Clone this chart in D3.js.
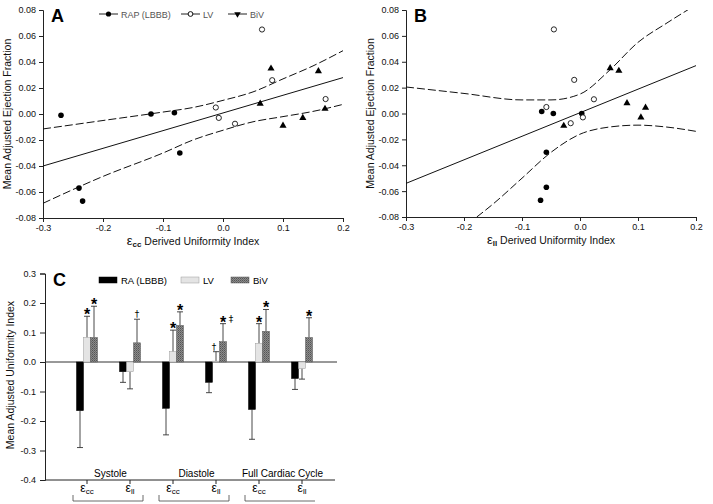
<!DOCTYPE html>
<html lang="en">
<head>
<meta charset="UTF-8">
<title>Uniformity index and ejection fraction</title>
<script src="https://d3js.org/d3.v7.min.js"></script>
<style>
  body { margin: 0; background: #fff; }
  svg { font-family: "Liberation Sans", Arial, sans-serif; }
  .tick text { font-size: 9px; fill: #111; }
  .domain, .tick line { stroke: #222; }
</style>
</head>
<body>
<script>
// ---- panel A : eps_cc vs EF ----
var raA_x = [-0.270, -0.120, -0.081, -0.072, -0.240, -0.234];
var raA_y = [-0.001, 0.000, 0.001, -0.030, -0.057, -0.067];
var lvA_x = [0.065, -0.012, -0.007, 0.020, 0.082, 0.171];
var lvA_y = [0.065, 0.005, -0.003, -0.0075, 0.026, 0.0115];
var bivA_x = [0.080, 0.062, 0.100, 0.133, 0.159, 0.170];
var bivA_y = [0.035, 0.008, -0.009, -0.003, 0.033, 0.004];
var fitA = [[-0.3, -0.040], [0.2, 0.028]];
var upperA = [[-0.3, -0.0115], [-0.2, -0.005], [-0.1, 0.0015], [-0.05, 0.005], [0, 0.0105], [0.05, 0.017], [0.1, 0.027], [0.15, 0.037], [0.2, 0.0487]];
var lowerA = [[-0.3, -0.0687], [-0.2, -0.048], [-0.1, -0.03], [-0.05, -0.02], [0, -0.0125], [0.05, -0.006], [0.1, -0.002], [0.15, 0.002], [0.2, 0.0074]];

// ---- panel B : eps_ll vs EF ----
var raB_x = [-0.066, -0.046, 0.003, -0.058, -0.058, -0.068];
var raB_y = [0.0015, 0.000, 0.000, -0.030, -0.057, -0.067];
var lvB_x = [-0.045, -0.010, -0.058, -0.016, 0.005, 0.024];
var lvB_y = [0.065, 0.026, 0.005, -0.0075, -0.003, 0.011];
var bivB_x = [-0.028, 0.052, 0.067, 0.081, 0.105, 0.113];
var bivB_y = [-0.0095, 0.035, 0.033, 0.008, -0.003, 0.0045];
var fitB = [[-0.3, -0.054], [0.2, 0.037]];
var upperB = [[-0.3, 0.0205], [-0.2, 0.0155], [-0.1, 0.0105], [-0.05, 0.0105], [0, 0.015], [0.05, 0.033], [0.1, 0.055], [0.15, 0.07], [0.2, 0.084]];
var lowerB = [[-0.178, -0.08], [-0.15, -0.07], [-0.1, -0.05], [-0.05, -0.03], [0, -0.016], [0.05, -0.0105], [0.1, -0.009], [0.15, -0.0105], [0.2, -0.0138]];

var xTicksAB = [-0.3, -0.2, -0.1, 0.0, 0.1, 0.2];
var yTicksAB = [-0.08, -0.06, -0.04, -0.02, 0.00, 0.02, 0.04, 0.06, 0.08];

// ---- panel C : bars ----
var seriesC = ["RA (LBBB)", "LV", "BiV"];
var catsC = ["sys_cc", "sys_ll", "dia_cc", "dia_ll", "full_cc", "full_ll"];
var catSub = ["cc", "ll", "cc", "ll", "cc", "ll"];
var phases = ["Systole", "Diastole", "Full Cardiac Cycle"];
var raMean = [-0.165, -0.033, -0.157, -0.069, -0.161, -0.056];
var raSd = [0.125, 0.036, 0.090, 0.035, 0.101, 0.037];
var lvMean = [0.083, -0.033, 0.035, 0.003, 0.063, -0.022];
var lvSd = [0.072, 0.058, 0.073, 0.032, 0.067, 0.036];
var bivMean = [0.083, 0.065, 0.124, 0.069, 0.104, 0.083];
var bivSd = [0.106, 0.080, 0.046, 0.061, 0.074, 0.067];
var yTicksC = [-0.4, -0.3, -0.2, -0.1, 0.0, 0.1, 0.2, 0.3];
// significance marks: [category index, series index, symbol]
var marksC = [[0, 1, "*"], [0, 2, "*"], [1, 2, "†"], [2, 1, "*"], [2, 2, "*"],
              [3, 1, "†"], [3, 2, "*"], [3, 2, "‡"], [4, 1, "*"], [4, 2, "*"], [5, 2, "*"]];

var svg = d3.select("body").append("svg")
  .attr("width", 713)
  .attr("height", 504);

var defs = svg.append("defs");
var pat = defs.append("pattern")
  .attr("id", "hatch")
  .attr("width", 2).attr("height", 2)
  .attr("patternUnits", "userSpaceOnUse");
pat.append("rect").attr("width", 2).attr("height", 2).attr("fill", "#8c8c8c");
pat.append("rect").attr("width", 1).attr("height", 1).attr("fill", "#555");
pat.append("rect").attr("x", 1).attr("y", 1).attr("width", 1).attr("height", 1).attr("fill", "#6a6a6a");

function scatterPanel(opt) {
  var x = d3.scaleLinear().domain([-0.3, 0.2]).range(opt.xr);
  var y = d3.scaleLinear().domain([-0.08, 0.08]).range(opt.yr);
  var g = svg.append("g");

  g.append("g")
    .attr("transform", `translate(0,${opt.yr[0]})`)
    .call(d3.axisBottom(x).tickValues(xTicksAB).tickSize(4).tickPadding(3).tickFormat(d => d.toFixed(1)));
  g.append("g")
    .attr("transform", `translate(${opt.xr[0]},0)`)
    .call(d3.axisLeft(y).tickValues(yTicksAB).tickSize(4).tickPadding(3).tickFormat(d => d.toFixed(2)));

  defs.append("clipPath").attr("id", opt.id + "clip")
    .append("rect")
    .attr("x", opt.xr[0]).attr("y", opt.yr[1])
    .attr("width", opt.xr[1] - opt.xr[0]).attr("height", opt.yr[0] - opt.yr[1]);

  var line = d3.line().x(d => x(d[0])).y(d => y(d[1])).curve(d3.curveMonotoneX);
  var lines = g.append("g").attr("clip-path", `url(#${opt.id}clip)`)
    .attr("fill", "none").attr("stroke", "#111");
  lines.append("path").attr("d", line(opt.fit)).attr("stroke-width", 1);
  lines.append("path").attr("d", line(opt.upper)).attr("stroke-width", 1).attr("stroke-dasharray", "8,3");
  lines.append("path").attr("d", line(opt.lower)).attr("stroke-width", 1).attr("stroke-dasharray", "8,3");

  g.selectAll(".ra").data(d3.zip(opt.ra[0], opt.ra[1])).enter().append("circle")
    .attr("cx", d => x(d[0])).attr("cy", d => y(d[1])).attr("r", 2.8).attr("fill", "#000");
  g.selectAll(".lv").data(d3.zip(opt.lv[0], opt.lv[1])).enter().append("circle")
    .attr("cx", d => x(d[0])).attr("cy", d => y(d[1])).attr("r", 2.6)
    .attr("fill", "#fff").attr("stroke", "#111").attr("stroke-width", 0.9);
  g.selectAll(".biv").data(d3.zip(opt.biv[0], opt.biv[1])).enter().append("path")
    .attr("d", d3.symbol(d3.symbolTriangle, 22))
    .attr("transform", d => `translate(${x(d[0])},${y(d[1])})`)
    .attr("fill", "#000");

  // axis titles
  var xt = g.append("text")
    .attr("x", (opt.xr[0] + opt.xr[1]) / 2).attr("y", opt.yr[0] + 27)
    .attr("text-anchor", "middle").style("font-size", "10.5px").attr("fill", "#111");
  xt.append("tspan").text("ε").style("font-size", "13px");
  xt.append("tspan").text(opt.sub).attr("dy", 2).style("font-size", "8px").style("font-weight", "bold");
  xt.append("tspan").text(" Derived Uniformity Index").attr("dy", -2);

  g.append("text")
    .attr("transform", `translate(${opt.xr[0] - 32},${(opt.yr[0] + opt.yr[1]) / 2}) rotate(-90)`)
    .attr("text-anchor", "middle").style("font-size", "10.5px").attr("fill", "#111")
    .text("Mean Adjusted Ejection Fraction");

  g.append("text").attr("x", opt.xr[0] + 8).attr("y", opt.yr[1] + 12)
    .style("font-size", "18px").style("font-weight", "bold").text(opt.label);
  return g;
}

var gA = scatterPanel({
  id: "A", label: "A", sub: "cc", xr: [43, 343], yr: [218, 10],
  ra: [raA_x, raA_y], lv: [lvA_x, lvA_y], biv: [bivA_x, bivA_y],
  fit: fitA, upper: upperA, lower: lowerA
});
scatterPanel({
  id: "B", label: "B", sub: "ll", xr: [406, 696], yr: [217, 10],
  ra: [raB_x, raB_y], lv: [lvB_x, lvB_y], biv: [bivB_x, bivB_y],
  fit: fitB, upper: upperB, lower: lowerB
});

// legend for A
var legA = gA.append("g").attr("fill", "#555").style("font-size", "9px");
[[99, "RAP (LBBB)"], [181, "LV"], [228, "BiV"]].forEach(function(d, i) {
  legA.append("line").attr("x1", d[0]).attr("x2", d[0] + 19).attr("y1", 14).attr("y2", 14)
    .attr("stroke", "#222").attr("stroke-width", 1);
  if (i === 0) legA.append("circle").attr("cx", d[0] + 9.5).attr("cy", 14).attr("r", 2.6).attr("fill", "#000");
  if (i === 1) legA.append("circle").attr("cx", d[0] + 9.5).attr("cy", 14).attr("r", 2.4).attr("fill", "#fff").attr("stroke", "#111");
  if (i === 2) legA.append("path").attr("d", d3.symbol(d3.symbolTriangle, 18))
    .attr("transform", `translate(${d[0] + 9.5},14) rotate(180)`).attr("fill", "#000");
  legA.append("text").attr("x", d[0] + 22).attr("y", 17.5).text(d[1]);
});

// ---- panel C ----
var gC = svg.append("g");
var yC = d3.scaleLinear().domain([-0.4, 0.3]).range([480, 273.5]);
var xC = d3.scaleBand().domain(catsC).range([65.5, 323.5]);
var xS = d3.scaleBand().domain(seriesC).range([-10.5, 10.5]);
var means = [raMean, lvMean, bivMean];
var sds = [raSd, lvSd, bivSd];
var fills = ["#000", "#e4e4e4", "url(#hatch)"];
var strokes = ["#000", "#9a9a9a", "#555"];

gC.append("g").attr("transform", "translate(45,0)")
  .call(d3.axisLeft(yC).tickValues(yTicksC).tickSize(5).tickPadding(4).tickFormat(d => d.toFixed(1)));
gC.append("line").attr("x1", 45).attr("x2", 335).attr("y1", yC(-0.4)).attr("y2", yC(-0.4)).attr("stroke", "#222");
gC.append("line").attr("x1", 45).attr("x2", 337).attr("y1", yC(0)).attr("y2", yC(0)).attr("stroke", "#333");
catsC.forEach(function(c) {
  var cx = xC(c) + xC.bandwidth() / 2;
  gC.append("line").attr("x1", cx).attr("x2", cx).attr("y1", 480).attr("y2", 484).attr("stroke", "#222");
});

seriesC.forEach(function(s, si) {
  catsC.forEach(function(c, ci) {
    var v = means[si][ci];
    var bx = xC(c) + xC.bandwidth() / 2 + xS(s);
    var w = xS.bandwidth();
    var ex = bx + w / 2;
    var end = v >= 0 ? v + sds[si][ci] : v - sds[si][ci];
    gC.append("line").attr("x1", ex).attr("x2", ex).attr("y1", yC(v)).attr("y2", yC(end))
      .attr("stroke", "#333").attr("stroke-width", 0.9);
    gC.append("line").attr("x1", ex - 3).attr("x2", ex + 3).attr("y1", yC(end)).attr("y2", yC(end))
      .attr("stroke", "#333").attr("stroke-width", 0.9);
    gC.append("rect")
      .attr("x", bx).attr("width", w)
      .attr("y", yC(Math.max(0, v))).attr("height", Math.abs(yC(v) - yC(0)))
      .attr("fill", fills[si]).attr("stroke", strokes[si]).attr("stroke-width", 0.5);
  });
});

// significance marks
marksC.forEach(function(m) {
  var ci = m[0], si = m[1], sym = m[2];
  var top = means[si][ci] + sds[si][ci];
  var ex = xC(catsC[ci]) + xC.bandwidth() / 2 + xS(seriesC[si]) + xS.bandwidth() / 2;
  if (sym === "*") {
    gC.append("text").attr("x", ex).attr("y", yC(top) + 4).attr("text-anchor", "middle")
      .attr("fill", "#000").style("font-size", "16px").style("font-weight", "bold").text(sym);
  } else {
    var dx = (sym === "‡") ? 8 : (si === 1 ? -2 : 0);
    gC.append("text").attr("x", ex + dx).attr("y", yC(top) - 2).attr("text-anchor", "middle")
      .attr("fill", "#000").style("font-family", "'DejaVu Sans', sans-serif")
      .style("font-size", "9px").text(sym);
  }
});

// category labels and brackets
catsC.forEach(function(c, ci) {
  var cx = xC(c) + xC.bandwidth() / 2;
  var t = gC.append("text").attr("x", cx).attr("y", 492).attr("text-anchor", "middle").style("font-size", "12px");
  t.append("tspan").text("ε");
  t.append("tspan").text(catSub[ci]).attr("dy", 2).style("font-size", "8px");
});
phases.forEach(function(p, pi) {
  var c0 = xC(catsC[pi * 2]) + xC.bandwidth() / 2;
  var c1 = xC(catsC[pi * 2 + 1]) + xC.bandwidth() / 2;
  gC.append("text").attr("x", (c0 + c1) / 2 + 2).attr("y", 477).attr("text-anchor", "middle")
    .style("font-size", "10px").text(p);
  var path = `M${c0 - 14},495 L${c0 - 14},501 L${c1 + 13},501` + (pi < 2 ? ` L${c1 + 13},495` : "");
  gC.append("path").attr("d", path).attr("fill", "none").attr("stroke", "#444").attr("stroke-width", 0.8);
});

gC.append("text")
  .attr("transform", "translate(14,375) rotate(-90)")
  .attr("text-anchor", "middle").style("font-size", "10.5px").attr("fill", "#111")
  .text("Mean Adjusted Uniformity Index");
gC.append("text").attr("x", 53).attr("y", 286).style("font-size", "18px").style("font-weight", "bold").text("C");

// legend C
[[99, 0, "RA (LBBB)"], [181, 1, "LV"], [231, 2, "BiV"]].forEach(function(d) {
  gC.append("rect").attr("x", d[0]).attr("y", 277).attr("width", 18).attr("height", 6)
    .attr("fill", fills[d[1]]).attr("stroke", strokes[d[1]]).attr("stroke-width", 0.5);
  gC.append("text").attr("x", d[0] + 22).attr("y", 283.5).style("font-size", "9.5px").text(d[2]);
});
</script>
</body>
</html>
